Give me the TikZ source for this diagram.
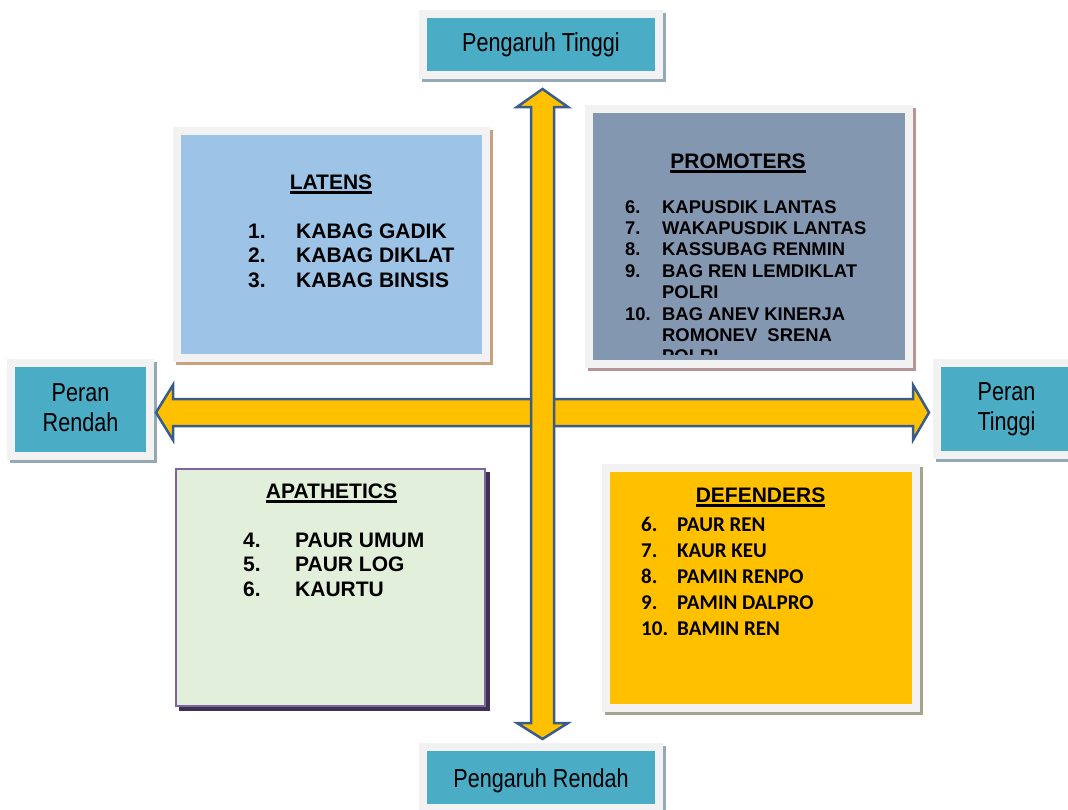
\documentclass[tikz,border=0pt]{standalone}
\usepackage{fontspec}
\setmainfont{Liberation Sans}
\newfontfamily\calibrifont{Carlito}
\usepackage{graphicx}
\usepackage{tikz}
\usetikzlibrary{calc, positioning}

\definecolor{labelteal}{HTML}{4BACC6}
\definecolor{framegrey}{HTML}{F2F2F2}
\definecolor{labelshade}{HTML}{93AAB5}
\definecolor{latensblue}{HTML}{9DC3E6}
\definecolor{latensshade}{HTML}{C8A27F}
\definecolor{promoslate}{HTML}{8497B0}
\definecolor{promoshade}{HTML}{B59595}
\definecolor{apathgreen}{HTML}{E2EFDA}
\definecolor{apathline}{HTML}{8064A2}
\definecolor{apathshade}{HTML}{3F3151}
\definecolor{defendgold}{HTML}{FFC000}
\definecolor{defendshade}{HTML}{A5A58D}
\definecolor{arrowgold}{HTML}{FFC000}
\definecolor{arrowline}{HTML}{385D8A}

\newcommand{\lbl}[1]{\scalebox{0.83}[1]{#1}}
\newcommand{\headline}[1]{\setbox0\hbox{#1}\rlap{\rule[-4.5pt]{\wd0}{2.5pt}}\box0}

\tikzset{
  shade box/.style={preaction={fill=#1, draw=#1, transform canvas={shift={(3pt,-3pt)}}}},
  framed box/.style 2 args={rectangle, inner sep=0pt, outer sep=0pt,
    fill=#1, draw=framegrey, line width=8pt, shade box=#2},
  label box/.style={framed box={labelteal}{labelshade},
    font=\fontsize{26}{30}\selectfont, align=center},
  head text/.style={anchor=base, inner sep=0pt, font=\fontsize{21}{24}\selectfont\bfseries},
  list text/.style={anchor=base west, inner sep=0pt},
  block arrow/.style={fill=arrowgold, draw=arrowline, line width=2.5pt, line join=miter},
}

\begin{document}
\begin{tikzpicture}[x=1pt, y=-1pt]
\clip (0,0) rectangle (1068,809);

% axis labels
\node[label box, minimum width=236, minimum height=61] (pt-box) at (541,44.5) {\lbl{Pengaruh Tinggi}};
\node[label box, minimum width=236, minimum height=61] (pr-box) at (541,777.5) {};
\node[font=\fontsize{26}{30}\selectfont] at ($(pr-box.center)+(0,3)$) {\lbl{Pengaruh Rendah}};
\node[label box, minimum width=139, minimum height=93] (rr-box) at (80.5,409.5) {};
\node[font=\fontsize{26}{30}\selectfont, align=center] at ($(rr-box.center)+(0,-2)$) {\lbl{Peran}\\\lbl{Rendah}};
\node[label box, minimum width=139, minimum height=92] (rt-box) at (1006.5,409) {\lbl{Peran}\\\lbl{Tinggi}};

% quadrants
\node[framed box={latensblue}{latensshade}, minimum width=309, minimum height=227] (latens-box) at (331.5,244.5) {};
\node[framed box={promoslate}{promoshade}, minimum width=320, minimum height=255] (promo-box) at (749,236.5) {};
\node[rectangle, inner sep=0pt, fill=apathgreen, draw=apathline, line width=2pt,
      preaction={fill=apathshade, draw=apathshade, transform canvas={shift={(4pt,-4pt)}}},
      minimum width=309, minimum height=237] (apath-box) at (330.5,587.5) {};
\node[framed box={defendgold}{defendshade}, minimum width=310, minimum height=240] (defend-box) at (761,588) {};

% LATENS
\node[head text] (latens-title) at (331,189) {\headline{LATENS}};
\node[list text, font=\fontsize{21}{24.5}\selectfont\bfseries] (latens-list) at (248,238)
  {\begin{tabular}[t]{@{}p{48pt}@{}l@{}}
   1. & KABAG GADIK\\
   2. & KABAG DIKLAT\\
   3. & KABAG BINSIS
   \end{tabular}};

% PROMOTERS
\node[head text] (promo-title) at (738,168) {\headline{PROMOTERS}};
\begin{scope}
\clip (594,113) rectangle (905,354);
\node[list text, font=\fontsize{18.4}{21.4}\selectfont\bfseries] (promo-list) at (625,213)
  {\begin{tabular}[t]{@{}p{37pt}@{}l@{}}
   6. & KAPUSDIK LANTAS\\
   7. & WAKAPUSDIK LANTAS\\
   8. & KASSUBAG RENMIN\\
   9. & BAG REN LEMDIKLAT\\
      & POLRI\\
   10. & BAG ANEV KINERJA\\
      & ROMONEV\ \ SRENA\\
      & POLRI
   \end{tabular}};
\end{scope}

% APATHETICS
\node[head text] (apath-title) at (331.5,498) {\headline{APATHETICS}};
\node[list text, font=\fontsize{21}{24.7}\selectfont\bfseries] (apath-list) at (243,547)
  {\begin{tabular}[t]{@{}p{52pt}@{}l@{}}
   4. & PAUR UMUM\\
   5. & PAUR LOG\\
   6. & KAURTU
   \end{tabular}};

% DEFENDERS
\node[head text] (defend-title) at (760.5,502) {\headline{DEFENDERS}};
\node[list text, font=\calibrifont\fontsize{21}{26}\selectfont\bfseries] (defend-list) at (641,531)
  {\begin{tabular}[t]{@{}p{36pt}@{}l@{}}
   6. & PAUR REN\\
   7. & KAUR KEU\\
   8. & PAMIN RENPO\\
   9. & PAMIN DALPRO\\
   10. & BAMIN REN
   \end{tabular}};

% axes
\coordinate (left tip) at (156,412.5);
\coordinate (right tip) at (929,412.5);
\coordinate (up tip) at (542.5,89);
\coordinate (down tip) at (542.5,739);
\draw[block arrow] (left tip) -- ++(17,-27.5) -- ++(0,14) -- (913,399) -- (913,385)
  -- (right tip) -- (913,440) -- (913,426) -- (173,426) -- (173,440) -- cycle;
\draw[block arrow] (up tip) -- ++(25.5,18) -- (554,107) -- (554,723) -- (568,723)
  -- (down tip) -- (517,723) -- (531,723) -- (531,107) -- (517,107) -- cycle;
\end{tikzpicture}
\end{document}
